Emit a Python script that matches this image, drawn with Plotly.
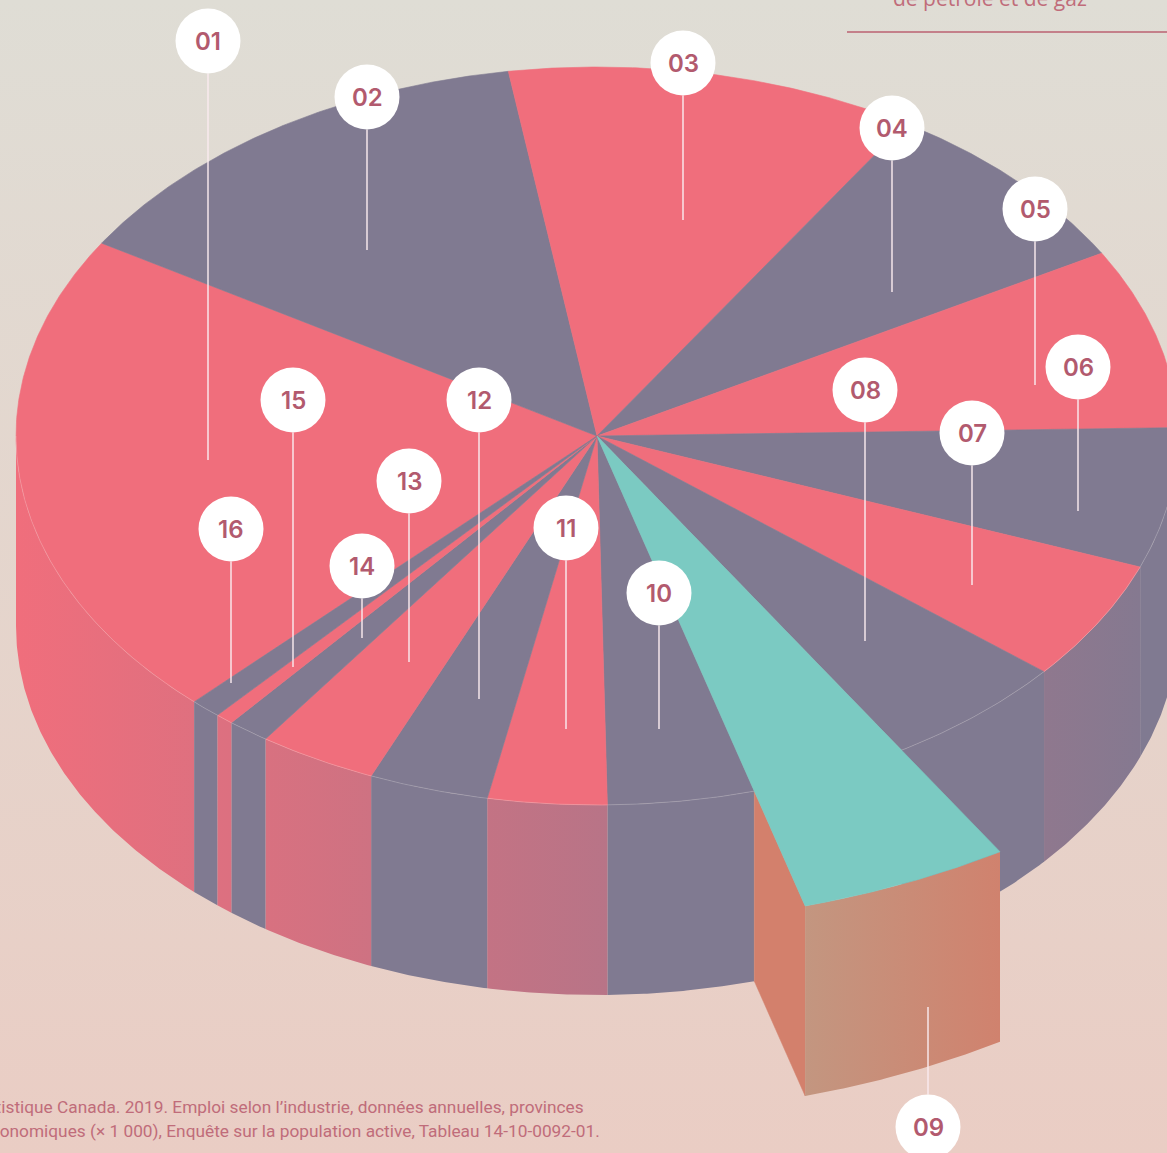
import numpy as np
import plotly.graph_objects as go

# ---------------- data ----------------
slice_labels = ["01", "02", "03", "04", "05", "06", "07", "08",
                "09", "10", "11", "12", "13", "14", "15", "16"]
slice_shares = [21.56, 13.81, 11.36, 7.83, 7.89, 6.14, 5.25, 5.19,
                4.42, 4.08, 3.31, 3.33, 3.31, 1.17, 0.50, 0.86]   # % of employment
highlight_label = "09"
header_text = "de pétrole et de gaz"
source_lines = [
    "Source : Statistique Canada. 2019. Emploi selon l’industrie, données annuelles, provinces",
    "et régions économiques (× 1 000), Enquête sur la population active, Tableau 14-10-0092-01.",
]

# ---------------- layout / style ----------------
W, H = 1167, 1153
CX, CY, RX, RY, DEPTH = 597, 436, 581, 369, 190
START_ANGLE = -133.9      # degrees, slices run clockwise
PULL_RADIUS = 1.323
PINK = (240, 110, 124)
GRAY = (128, 122, 145)
TEAL = (123, 202, 194)
LABEL_COLOR = "rgb(178,90,110)"
TEXT_COLOR = "rgb(192,108,122)"
BG_TOP, BG_BOTTOM = (223, 221, 213), (234, 205, 196)

# callout placement (circle centre x, circle centre y, end of stem y)
callouts = {
    "01": (208, 41, 460), "02": (367, 97, 250), "03": (683, 63, 220),
    "04": (892, 128, 292), "05": (1035, 209, 385), "06": (1078, 367, 511),
    "07": (972, 433, 585), "08": (865, 390, 641), "09": (928, 1127, 1007),
    "10": (659, 593, 729), "11": (566, 528, 729), "12": (479, 400, 699),
    "13": (409, 481, 662), "14": (362, 566, 638), "15": (293, 400, 667),
    "16": (231, 529, 683),
}
CIRCLE_R = 32.5


def rgb(c):
    return "rgb(%d,%d,%d)" % tuple(int(round(v)) for v in c)


def mix(a, b, f):
    return tuple(a[i] + (b[i] - a[i]) * f for i in range(3))


def pt(t, r=1.0, dz=0.0):
    t = np.radians(t)
    return CX + RX * r * np.cos(t), CY - RY * r * np.sin(t) + dz


def arc(ta, tb, r=1.0, dz=0.0):
    n = max(3, int(abs(tb - ta) * 3) + 2)
    ts = np.linspace(ta, tb, n)
    return pt(ts, r, dz)


def wall_shade(x):
    return float(np.clip((x - 17) / 1180.0, 0, 1))


shares = np.array(slice_shares, dtype=float)
cum = np.concatenate([[0], np.cumsum(shares)]) / shares.sum() * 360.0
t_start = START_ANGLE - cum[:-1]
t_end = START_ANGLE - cum[1:]

fig = go.Figure()

# background gradient
fig.add_trace(go.Scatter(
    x=[0, W, W, 0, 0], y=[0, 0, H, H, 0], mode="lines", line=dict(width=0),
    fill="toself", fillgradient=dict(type="vertical", start=0, stop=H,
                                     colorscale=[[0, rgb(BG_TOP)], [1, rgb(BG_BOTTOM)]]),
    hoverinfo="skip", showlegend=False))

base_colors = []
for i, lab in enumerate(slice_labels):
    if lab == highlight_label:
        base_colors.append(TEAL)
    else:
        base_colors.append(PINK if i % 2 == 0 else GRAY)

# side walls of main pie (front half only)
for i, lab in enumerate(slice_labels):
    if lab == highlight_label:
        continue
    a0, a1 = t_start[i], t_end[i]   # a0 > a1
    for lo, hi in [(-180, 0), (-540, -360)]:
        s = min(a0, hi)
        e = max(a1, lo)
        if s <= e:
            continue
        xt, yt = arc(s, e)
        xb, yb = arc(e, s, dz=DEPTH)
        xs = np.concatenate([xt, xb, xt[:1]])
        ys = np.concatenate([yt, yb, yt[:1]])
        c = base_colors[i]
        cl = mix(c, GRAY, wall_shade(xs.min()))
        cr = mix(c, GRAY, wall_shade(xs.max()))
        fig.add_trace(go.Scatter(
            x=xs, y=ys, mode="lines", line=dict(width=0), fill="toself",
            fillgradient=dict(type="horizontal", colorscale=[[0, rgb(cl)], [1, rgb(cr)]]),
            hoverinfo="skip", showlegend=False))

# pulled slice walls
hi_idx = slice_labels.index(highlight_label)
a0, a1 = t_start[hi_idx], t_end[hi_idx]
p1 = pt(a1, 1.0); p2 = pt(a1, PULL_RADIUS)
fig.add_trace(go.Scatter(
    x=[p1[0], p2[0], p2[0], p1[0], p1[0]],
    y=[p1[1], p2[1], p2[1] + DEPTH, p1[1] + DEPTH, p1[1]],
    mode="lines", line=dict(width=0.5, color="rgb(211,128,108)"), fill="toself",
    fillcolor="rgb(211,128,108)", hoverinfo="skip", showlegend=False))
xt, yt = arc(a1, a0, PULL_RADIUS)
xb, yb = arc(a0, a1, PULL_RADIUS, DEPTH)
fig.add_trace(go.Scatter(
    x=np.concatenate([xt, xb, xt[:1]]), y=np.concatenate([yt, yb, yt[:1]]),
    mode="lines", line=dict(width=0), fill="toself",
    fillgradient=dict(type="horizontal",
                      colorscale=[[0, "rgb(195,150,128)"], [1, "rgb(208,130,110)"]]),
    hoverinfo="skip", showlegend=False))

# top faces
for i, lab in enumerate(slice_labels):
    if lab == highlight_label:
        continue
    xa, ya = arc(t_start[i], t_end[i])
    xs = np.concatenate([[CX], xa, [CX]])
    ys = np.concatenate([[CY], ya, [CY]])
    fig.add_trace(go.Scatter(
        x=xs, y=ys, mode="lines", line=dict(width=0.6, color=rgb(base_colors[i])),
        fill="toself", fillcolor=rgb(base_colors[i]), hoverinfo="skip", showlegend=False))

# faint rim highlight
xr, yr = arc(-180, 0)
fig.add_trace(go.Scatter(x=xr, y=yr, mode="lines",
                         line=dict(width=0.8, color="rgba(255,255,255,0.25)"),
                         hoverinfo="skip", showlegend=False))

# pulled slice top
xa, ya = arc(a0, a1, PULL_RADIUS)
fig.add_trace(go.Scatter(
    x=np.concatenate([[CX], xa, [CX]]), y=np.concatenate([[CY], ya, [CY]]),
    mode="lines", line=dict(width=0.6, color=rgb(TEAL)), fill="toself",
    fillcolor=rgb(TEAL), hoverinfo="skip", showlegend=False))

# callouts
shapes, annotations = [], []
for lab in slice_labels:
    x, y, yend = callouts[lab]
    y0 = y + CIRCLE_R if yend > y else y - CIRCLE_R
    shapes.append(dict(type="line", xref="x", yref="y", x0=x, x1=x, y0=y0, y1=yend,
                       line=dict(color="rgba(250,235,238,0.9)", width=1.6), layer="above"))
for lab in slice_labels:
    x, y, yend = callouts[lab]
    shapes.append(dict(type="circle", xref="x", yref="y",
                       x0=x - CIRCLE_R, x1=x + CIRCLE_R, y0=y - CIRCLE_R, y1=y + CIRCLE_R,
                       fillcolor="white", line=dict(width=0), layer="above"))
    annotations.append(dict(x=x, y=y, xref="x", yref="y", text=lab, showarrow=False,
                            font=dict(family="Inter", size=24, color=LABEL_COLOR, weight=600),
                            xanchor="center", yanchor="middle"))

# header fragment + rule
annotations.append(dict(x=990 / W, y=1 - 14 / H, xref="paper", yref="paper", text=header_text,
                        showarrow=False, xanchor="center", yanchor="bottom",
                        font=dict(family="Open Sans", size=21, color=TEXT_COLOR)))
shapes.append(dict(type="line", xref="paper", yref="paper", x0=847 / W, x1=1.0,
                   y0=1 - 32 / H, y1=1 - 32 / H,
                   line=dict(color="rgb(196,128,138)", width=2)))

# source
for k, (line_txt, xr_, yc) in enumerate(zip(source_lines, [586, 602], [1107, 1131])):
    annotations.append(dict(x=xr_ / W, y=1 - yc / H, xref="paper", yref="paper", text=line_txt,
                            showarrow=False, xanchor="right", yanchor="middle",
                            font=dict(family="Roboto", size=17.3, color=TEXT_COLOR)))

fig.update_layout(
    width=W, height=H, margin=dict(l=0, r=0, t=0, b=0),
    paper_bgcolor=rgb(BG_TOP), plot_bgcolor="rgba(0,0,0,0)",
    xaxis=dict(range=[0, W], visible=False, fixedrange=True),
    yaxis=dict(range=[H, 0], visible=False, fixedrange=True),
    shapes=shapes, annotations=annotations, showlegend=False,
)

fig.write_html("out.html", config=dict(displayModeBar=False),
               post_script="document.body.style.margin='0';document.body.style.overflow='hidden';")
